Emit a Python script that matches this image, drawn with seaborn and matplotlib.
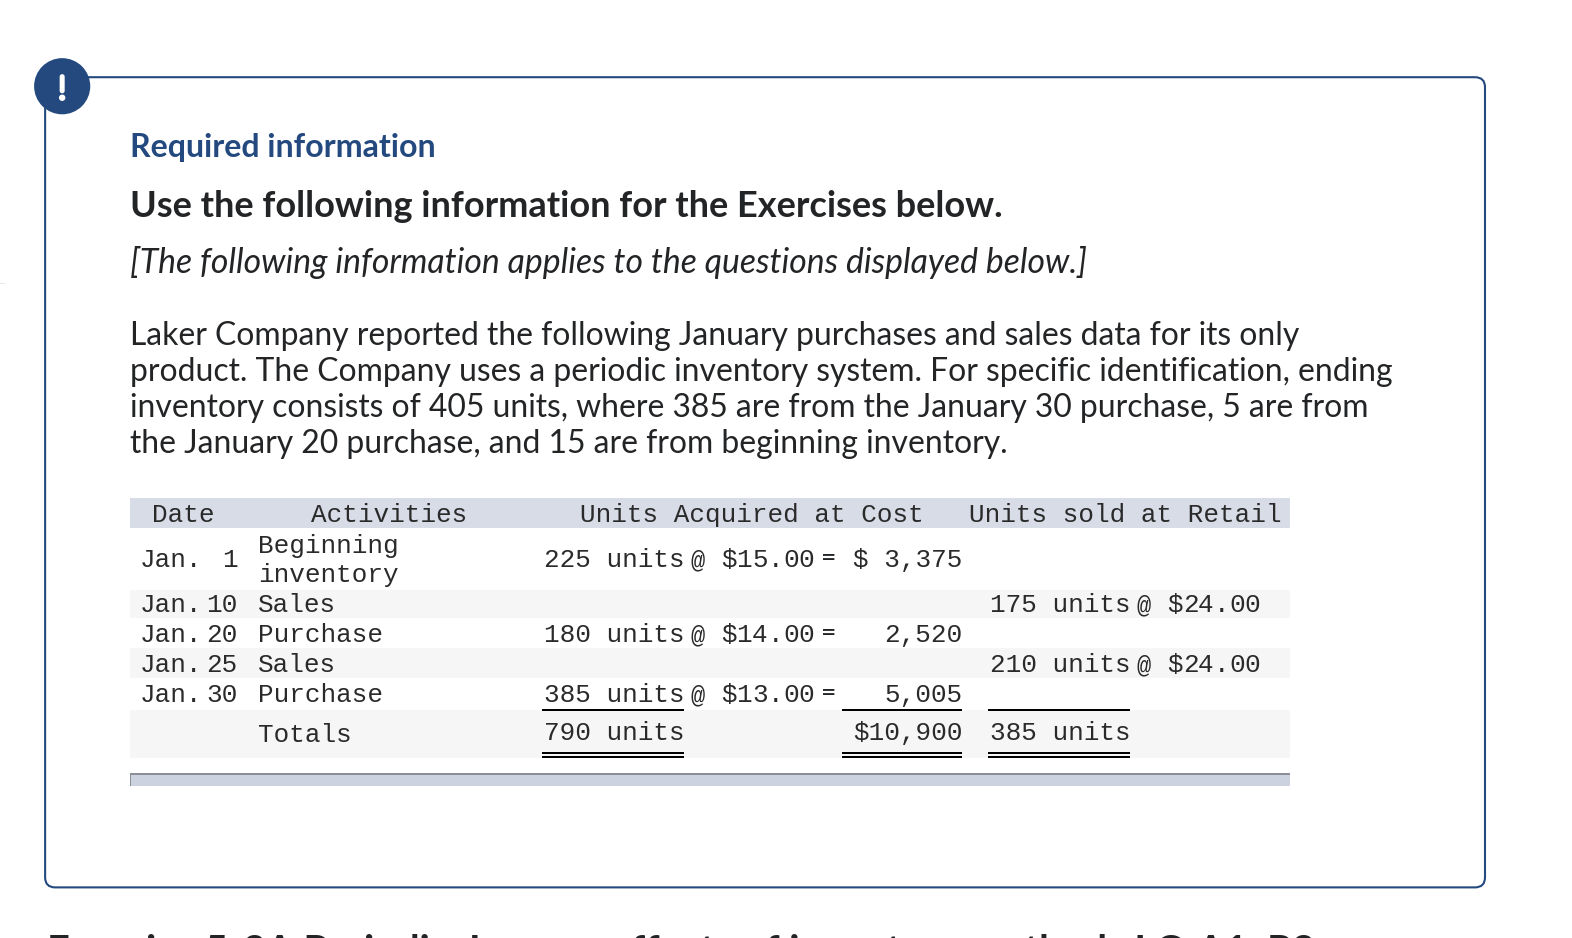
import matplotlib
matplotlib.use("Agg")
import matplotlib.pyplot as plt
from matplotlib.patches import Rectangle, FancyBboxPatch, Circle
import seaborn as sns

sns.set_theme(style="white")
W, H = 1572, 938
SCALE = 1.0027
NAVY = "#24497f"
INK = "#222426"
MONO = "Liberation Mono"
SANS = "Lato"

kicker = "Required information"
heading = "Use the following information for the Exercises below."
note = "[The following information applies to the questions displayed below.]"
body = [
    "Laker Company reported the following January purchases and sales data for its only",
    "product. The Company uses a periodic inventory system. For specific identification, ending",
    "inventory consists of 405 units, where 385 are from the January 30 purchase, 5 are from",
    "the January 20 purchase, and 15 are from beginning inventory.",
]
footer = "Exercise 5-3A Periodic: Income effects of inventory methods LO A1, P3"

headers = ["Date", "Activities", "Units Acquired at Cost", "Units sold at Retail"]
days = ["1", "10", "20", "25", "30"]
activities = ["Beginning\ninventory", "Sales", "Purchase", "Sales", "Purchase"]
acquired_units = ["225 units", "", "180 units", "", "385 units"]
acquired_price = ["$15.00", "", "$14.00", "", "$13.00"]
acquired_cost = ["$ 3,375", "", "2,520", "", "5,005"]
sold_units = ["", "175 units", "", "210 units", ""]
sold_price = ["", "$24.00", "", "$24.00", ""]
totals = ["Totals", "790 units", "$10,900", "385 units"]

fig = plt.figure(figsize=(W / 100, H / 100), dpi=100)
ax = fig.add_axes([0, 0, 1, 1])
ax.set_xlim(0, W / SCALE)
ax.set_ylim(H / SCALE, 0)
ax.axis("off")


def band(x0, x1, y0, y1, color, z=1):
    ax.add_patch(Rectangle((x0, y0), x1 - x0, y1 - y0, fc=color, ec="none", zorder=z))


def sans(x, y, s, size, color=INK, weight="normal", style="normal"):
    ax.text(x, y, s, fontsize=size, color=color, fontweight=weight, fontstyle=style,
            family=SANS, va="baseline", ha="left", clip_on=False)


def mono(x, y, s, ha="left", size=18.7, color="#2a2a2a"):
    ax.text(x, y, s, fontsize=size, color=color, family=MONO, va="baseline", ha=ha)


def spaced(x, y, s, step=15.5, size=18.7):
    mono(x, y, s[0], size=size)
    for i, c in enumerate(s[1:], start=1):
        mono(x + i * step, y, c, size=size)


# frame
ax.add_patch(FancyBboxPatch((45, 77), 1436, 808,
                            boxstyle="round,pad=0,rounding_size=10",
                            fc="white", ec=NAVY, lw=1.5, zorder=1))
ax.add_patch(Circle((62, 86), 28, fc=NAVY, ec="none", zorder=3))
ax.add_patch(FancyBboxPatch((59.5, 74), 5, 19, boxstyle="round,pad=0,rounding_size=2.4",
                            fc="white", ec="none", zorder=4))
ax.add_patch(Circle((62, 97.5), 3.2, fc="white", ec="none", zorder=4))
band(0, 5, 282.5, 283.5, "#e8e8e8")

# text block
sans(130, 156.5, kicker, 23.1, NAVY, "bold")
sans(130, 216.5, heading, 26.05, INK, "bold")
sans(130, 272, note, 24.35, INK, style="italic")
for i, line in enumerate(body):
    sans(130, 344 + 36 * i, line, 22.92)
sans(47, 961, footer, 28.7, INK, "bold")

# table bands
band(130, 1287, 497, 527, "#d8dce6")
band(130, 1287, 588, 616.5, "#f6f6f6")
band(130, 1287, 646.5, 676.5, "#f6f6f6")
band(130, 1287, 708.5, 756, "#f6f6f6")
band(130, 1287, 771, 784, "#ccd2df")
band(130, 1287, 770.5, 772.5, "#8b8e97", 2)
band(130, 131, 771, 784, "#8b8e97", 2)

# header row
mono(152, 520.5, headers[0])
mono(310.5, 520.5, headers[1])
mono(578.5, 520.5, headers[2])
mono(966.5, 520.5, headers[3])

# body rows
row_base = [565.5, 610.5, 640.5, 670.5, 700.5]
for i, base in enumerate(row_base):
    mono(139, base, "Jan.")
    mono(237, base, days[i], ha="right")
    if "\n" in activities[i]:
        a, b = activities[i].split("\n")
        mono(257.2, base - 14, a)
        mono(257.2, base + 15, b)
    else:
        mono(257.2, base, activities[i])
    if acquired_units[i]:
        mono(542.7, base, acquired_units[i])
        mono(688.5, base, "@", size=17)
        spaced(719, base, acquired_price[i])
        sans(819, base - 1, "=", 19)
        mono(959.5, base, acquired_cost[i], ha="right")
    if sold_units[i]:
        mono(987.5, base, sold_units[i])
        mono(1133.5, base, "@", size=17)
        spaced(1164, base, sold_price[i])

# totals row
mono(257.2, 740.5, totals[0])
mono(542.7, 738.5, totals[1])
mono(959.5, 738.5, totals[2], ha="right")
mono(987.5, 738.5, totals[3])

# rules
for x0, x1 in [(541, 682), (840, 959), (985, 1127)]:
    band(x0, x1, 707, 709, "#000000", 3)
    band(x0, x1, 750, 752, "#000000", 3)
    band(x0, x1, 754, 756, "#000000", 3)

fig.savefig("out.png", dpi=100, facecolor="white")
